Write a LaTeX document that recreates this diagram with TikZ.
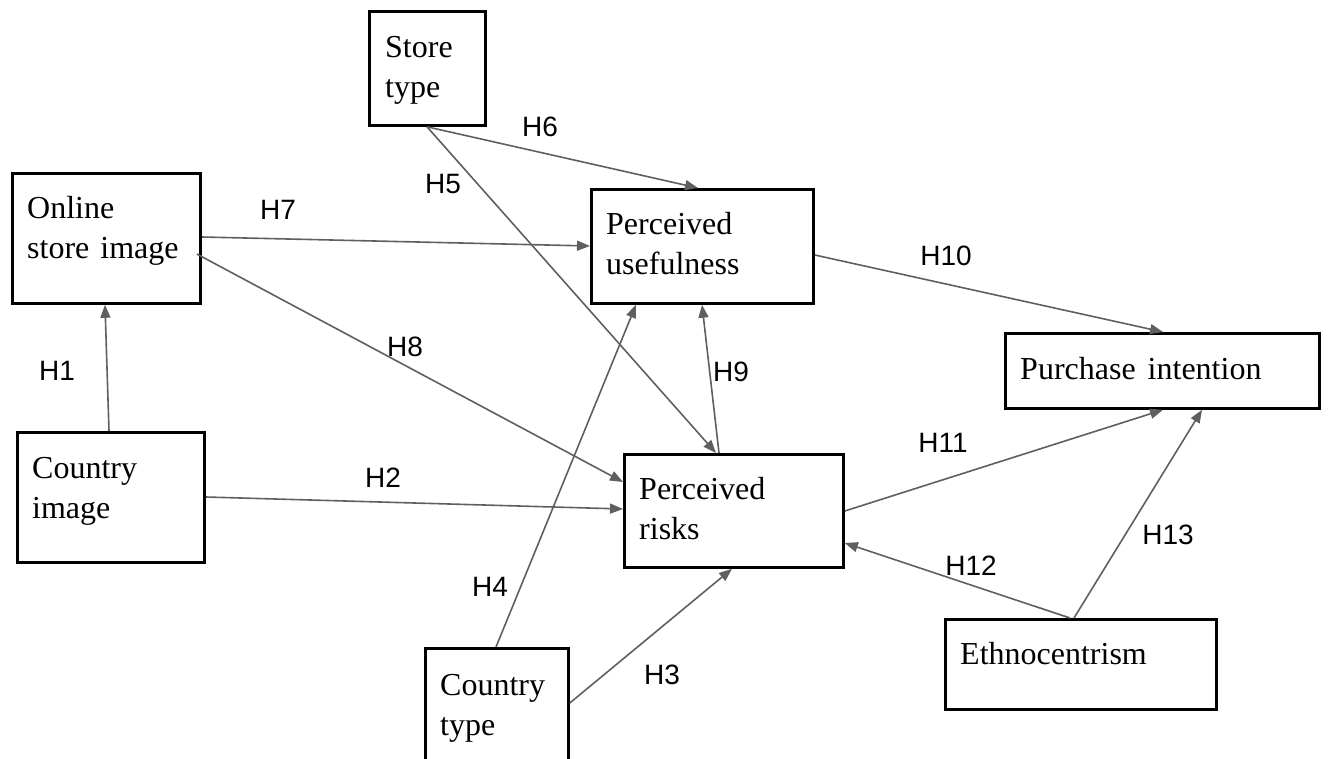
\documentclass[tikz,border=0pt]{standalone}
\usepackage{fontspec}
\setmainfont{Liberation Serif}
\newfontfamily\labfont{Liberation Sans}
\usetikzlibrary{arrows.meta}
\definecolor{arrowgray}{RGB}{95,95,95}
\newcommand{\twoline}[2]{\begin{tabular}[t]{@{}l@{}}#1\\#2\end{tabular}}
\tikzset{
  box/.style={draw=black, line width=2.8pt, rectangle, inner sep=0pt, anchor=north west},
  boxtext/.style={anchor=base west, inner sep=0pt, align=left, font=\fontsize{32}{40}\selectfont},
  hyp/.style={font=\labfont\fontsize{28}{32}\selectfont, inner sep=0pt},
  link/.style={draw=arrowgray, line width=1.6pt, -{Triangle[length=13pt,width=10pt]}}
}
\begin{document}
\begin{tikzpicture}[x=1pt,y=-1pt]
\useasboundingbox (0,0) rectangle (1341,759);
\clip (0,0) rectangle (1341,759);
% boxes
\node[box, minimum width=116pt, minimum height=114pt] (st) at (368,10) {};
\node[box, minimum width=188pt, minimum height=130pt] (on) at (11,172) {};
\node[box, minimum width=222pt, minimum height=114pt] (pu) at (590,188) {};
\node[box, minimum width=314pt, minimum height=75pt] (pi) at (1004,332) {};
\node[box, minimum width=187pt, minimum height=130pt] (ci) at (16,431) {};
\node[box, minimum width=219pt, minimum height=113pt] (pr) at (623,453) {};
\node[box, minimum width=143pt, minimum height=140pt] (ct) at (424,647) {};
\node[box, minimum width=271pt, minimum height=90pt] (eth) at (944,618) {};
% box texts
\node[boxtext] (st-t) at (385,58) {\twoline{Store}{type}};
\node[boxtext] (on-t) at (27,219) {\twoline{Online}{store\kern3pt\ image}};
\node[boxtext] (pu-t) at (606,235) {\twoline{Perceived}{usefulness}};
\node[boxtext] (pi-t) at (1020,379) {Purchase\kern4pt\ intention};
\node[boxtext] (ci-t) at (32,478) {\twoline{Country}{image}};
\node[boxtext] (pr-t) at (639,499) {\twoline{Perceived}{risks}};
\node[boxtext] (ct-t) at (440,695) {\twoline{Country}{type}};
\node[boxtext] (eth-t) at (960,664) {Ethnocentrism};
% connectors
\draw[link] ([xshift=93pt]ci.north west) -- ([xshift=94pt]on.south west);
\draw[link] ([yshift=-66pt]ci.north east) -- ([yshift=-56pt]pr.north west);
\draw[link] ([yshift=-56pt]ct.north east) -- ([xshift=109pt]pr.south west);
\draw[link] ([xshift=72pt]ct.north west) -- ([xshift=46pt]pu.south west);
\draw[link] ([xshift=59pt]st.south west) -- ([xshift=93pt]pr.north west);
\draw[link] ([xshift=59pt]st.south west) -- ([xshift=108pt]pu.north west);
\draw[link] ([yshift=-65pt]on.north east) -- ([yshift=-58pt]pu.north west);
\draw[link] ([xshift=-5pt,yshift=-82pt]on.north east) -- ([yshift=-29pt]pr.north west);
\draw[link] ([xshift=96pt]pr.north west) -- ([xshift=112pt]pu.south west);
\draw[link] ([yshift=-67pt]pu.north east) -- ([xshift=159pt]pi.north west);
\draw[link] ([yshift=-58pt]pr.north east) -- ([xshift=159pt]pi.south west);
\draw[link] ([xshift=126pt]eth.north west) -- ([yshift=-90pt]pr.north east);
\draw[link] ([xshift=130pt]eth.north west) -- ([xshift=198pt]pi.south west);
% hypothesis labels
\node[hyp] (h1) at (57,371) {H1};
\node[hyp] (h2) at (383,478) {H2};
\node[hyp] (h3) at (662,675) {H3};
\node[hyp] (h4) at (490,587) {H4};
\node[hyp] (h5) at (443,184) {H5};
\node[hyp] (h6) at (540,127) {H6};
\node[hyp] (h7) at (278,210) {H7};
\node[hyp] (h8) at (405,347) {H8};
\node[hyp] (h9) at (731,372) {H9};
\node[hyp] (h10) at (946,256) {H10};
\node[hyp] (h11) at (943,443) {H11};
\node[hyp] (h12) at (971,566) {H12};
\node[hyp] (h13) at (1168,535) {H13};
\end{tikzpicture}
\end{document}
